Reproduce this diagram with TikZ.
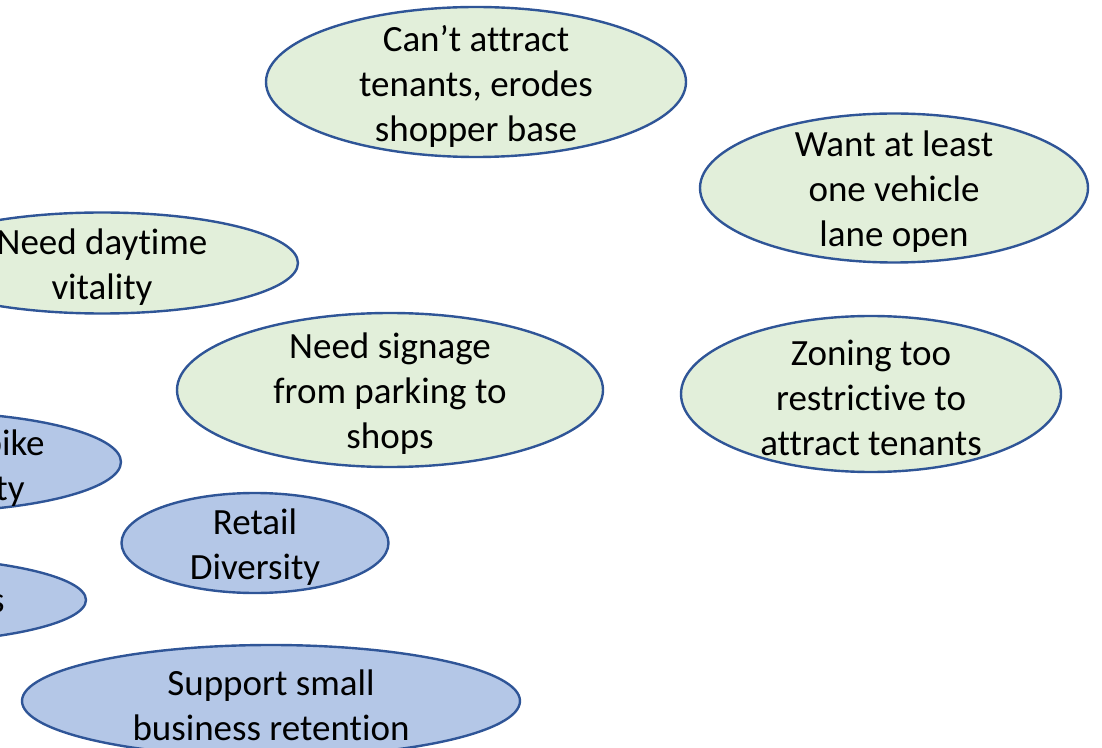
\documentclass[tikz,border=0pt]{standalone}
\usepackage{fontspec}
\setmainfont{Carlito}[Ligatures=NoCommon]
\usetikzlibrary{shapes.geometric}
\definecolor{gfill}{HTML}{E2EFDA}
\definecolor{bfill}{HTML}{B4C7E7}
\definecolor{edge}{HTML}{2F5597}
\tikzset{
  oval/.style={ellipse, draw=edge, line width=1.2pt, inner sep=0pt},
  greenoval/.style={oval, fill=gfill},
  blueoval/.style={oval, fill=bfill},
  label/.style={align=center, inner sep=0pt, yshift=-2pt, font=\fontsize{18.5pt}{22.5pt}\selectfont},
  cut/.style={inner sep=0pt, font=\fontsize{18.5pt}{22.5pt}\selectfont}
}
\begin{document}
\begin{tikzpicture}[x=0.5pt,y=-0.5pt]
\useasboundingbox (0,0) rectangle (1102,748);
\clip (0,0) rectangle (1102,748);
% green ovals
\node[greenoval, minimum width=210pt, minimum height=75pt] (o1) at (476,82) {};
\node[label] (t1) at (o1.center) {Can’t attract\\tenants, erodes\\shopper base};
\node[greenoval, minimum width=194pt, minimum height=74.5pt] (o2) at (894,188) {};
\node[label] (t2) at (o2.center) {Want at least\\one vehicle\\lane open};
\node[greenoval, minimum width=196pt, minimum height=50.5pt] (o3) at (102,263) {};
\node[label] (t3) at (o3.center) {Need daytime\\vitality};
\node[greenoval, minimum width=213pt, minimum height=77pt] (o4) at (390,390) {};
\node[label] (t4) at (o4.center) {Need signage\\from parking to\\shops};
\node[greenoval, minimum width=190pt, minimum height=78pt] (o5) at (871,394) {};
\node[label] (t5) at (o5.center) {Zoning too\\restrictive to\\attract tenants};
% blue ovals
\node[blueoval, minimum width=200pt, minimum height=50pt] (o6) at (-79,462) {};
\node[cut, anchor=base east] (t6a) at (45,455) {Pedestrian/bike};
\node[cut, anchor=base east] (t6b) at (25,500) {connectivity};
\node[blueoval, minimum width=196pt, minimum height=43pt] (o7) at (-110,600) {};
\node[cut, anchor=base east] (t7) at (5,612) {More events};
\node[blueoval, minimum width=133.5pt, minimum height=50pt] (o8) at (255,543) {};
\node[label] (t8) at (o8.center) {Retail\\Diversity};
\node[blueoval, minimum width=249pt, minimum height=56pt] (o9) at (271,701) {};
\node[label] (t9) at (o9.center) {Support small\\business retention};
\end{tikzpicture}
\end{document}
